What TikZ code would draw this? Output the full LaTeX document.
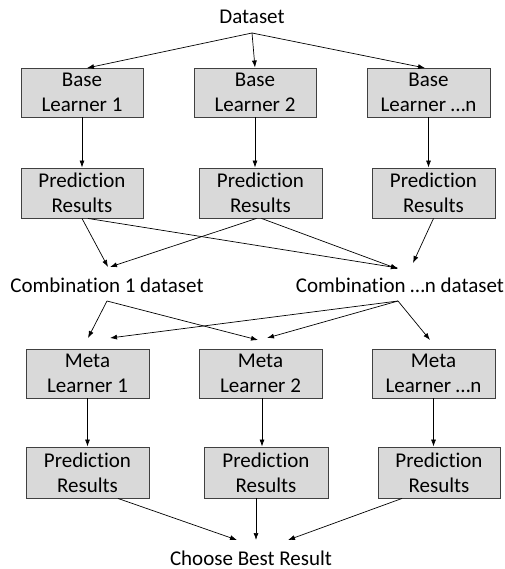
\documentclass[tikz,border=0pt]{standalone}
\usepackage{fontspec}
\setmainfont{Carlito}[RawFeature=-liga]
\usetikzlibrary{arrows.meta}
\begin{document}
\begin{tikzpicture}[x=1pt,y=-1pt,
 box/.style={draw=black!75, fill=black!15, line width=0.9pt, minimum width=122pt, minimum height=50pt, align=center, inner sep=0pt, text=black, font=\fontsize{21}{25}\selectfont},
 lbl/.style={font=\fontsize{21}{25}\selectfont, inner sep=0pt, text=black},
 arr/.style={-{Latex[length=7pt,width=5pt]}, line width=0.7pt}]
\useasboundingbox (0,0) rectangle (504,569);
% top
\node[lbl] (ds) at (252,17) {Dataset};
\coordinate (dsout) at (252,33);
\node[box, minimum height=49pt] (b1) at (82,92.5) {Base\\Learner 1};
\node[box, minimum height=49pt] (b2) at (255,92.5) {Base\\Learner 2};
\node[box, minimum height=49pt, minimum width=123pt] (bn) at (428.5,92.5) {Base\\Learner …n};
\node[box] (p1) at (82,193) {Prediction\\Results};
\node[box, minimum width=123pt] (p2) at (260.5,193) {Prediction\\Results};
\node[box, minimum width=123pt] (pn) at (433.5,193) {Prediction\\Results};
\node[lbl] (c1) at (107,285) {Combination 1 dataset};
\node[lbl] (cn) at (400,285) {Combination …n dataset};
\node[box, minimum height=49pt, minimum width=123pt] (m1) at (87.5,373.5) {Meta\\Learner 1};
\node[box, minimum height=49pt, minimum width=123pt] (m2) at (260.5,373.5) {Meta\\Learner 2};
\node[box, minimum height=49pt, minimum width=123pt] (mn) at (433.5,373.5) {Meta\\Learner …n};
\node[box, minimum height=51pt, minimum width=123pt] (q1) at (87.5,472.5) {Prediction\\Results};
\node[box, minimum height=51pt, minimum width=124pt] (q2) at (266,472.5) {Prediction\\Results};
\node[box, minimum height=51pt, minimum width=122pt] (qn) at (439,472.5) {Prediction\\Results};
\node[lbl] (best) at (251,558) {Choose Best Result};
% coordinates
\coordinate (c1in) at (108,267);
\coordinate (cnin) at (398,268);
\coordinate (cnin2) at (413,263);
\coordinate (c1out) at (107,301);
\coordinate (cnout) at (398,301);
\coordinate (m1in) at (88,338);
\coordinate (m1in2) at (110,338);
\coordinate (m2in) at (258,340);
\coordinate (m2in2) at (267,338);
\coordinate (mnin) at (430,340);
\coordinate (bestin) at (237,540);
\coordinate (bestin2) at (256,540);
\coordinate (bestin3) at (288,540);
% dataset arrows
\draw[arr] (dsout) -- (87,68);
\draw[arr] (dsout) -- (b2.north);
\draw[arr] (dsout) -- (425,68);
% base -> pred
\draw[arr] (b1.south) -- (p1.north);
\draw[arr] (b2.south) -- (b2.south |- p2.north);
\draw[arr] (bn.south) -- (bn.south |- pn.north);
% pred -> combination
\draw[arr] (p1.south) -- (c1in);
\draw[arr] ([xshift=6pt]p1.south) -- (cnin);
\draw[arr] ([xshift=-4pt]p2.south) -- ([xshift=2pt]c1in);
\draw[arr] ([xshift=1pt]p2.south) -- ([yshift=-1pt]cnin);
\draw[arr] (pn.south) -- (cnin2);
% combination -> meta
\draw[arr] (c1out) -- (m1in);
\draw[arr] (c1out) -- (m2in);
\draw[arr] (cnout) -- (m1in2);
\draw[arr] (cnout) -- (m2in2);
\draw[arr] (cnout) -- (mnin);
% meta -> pred
\draw[arr] (m1.south) -- (m1.south |- q1.north);
\draw[arr] ([xshift=1.5pt]m2.south) -- ([xshift=1.5pt]m2.south |- q2.north);
\draw[arr] (mn.south) -- (mn.south |- qn.north);
% pred -> best
\draw[arr] ([xshift=30.5pt]q1.south) -- (bestin);
\draw[arr] ([xshift=-10pt]q2.south) -- (bestin2);
\draw[arr] ([xshift=-37pt]qn.south) -- (bestin3);
\end{tikzpicture}
\end{document}
